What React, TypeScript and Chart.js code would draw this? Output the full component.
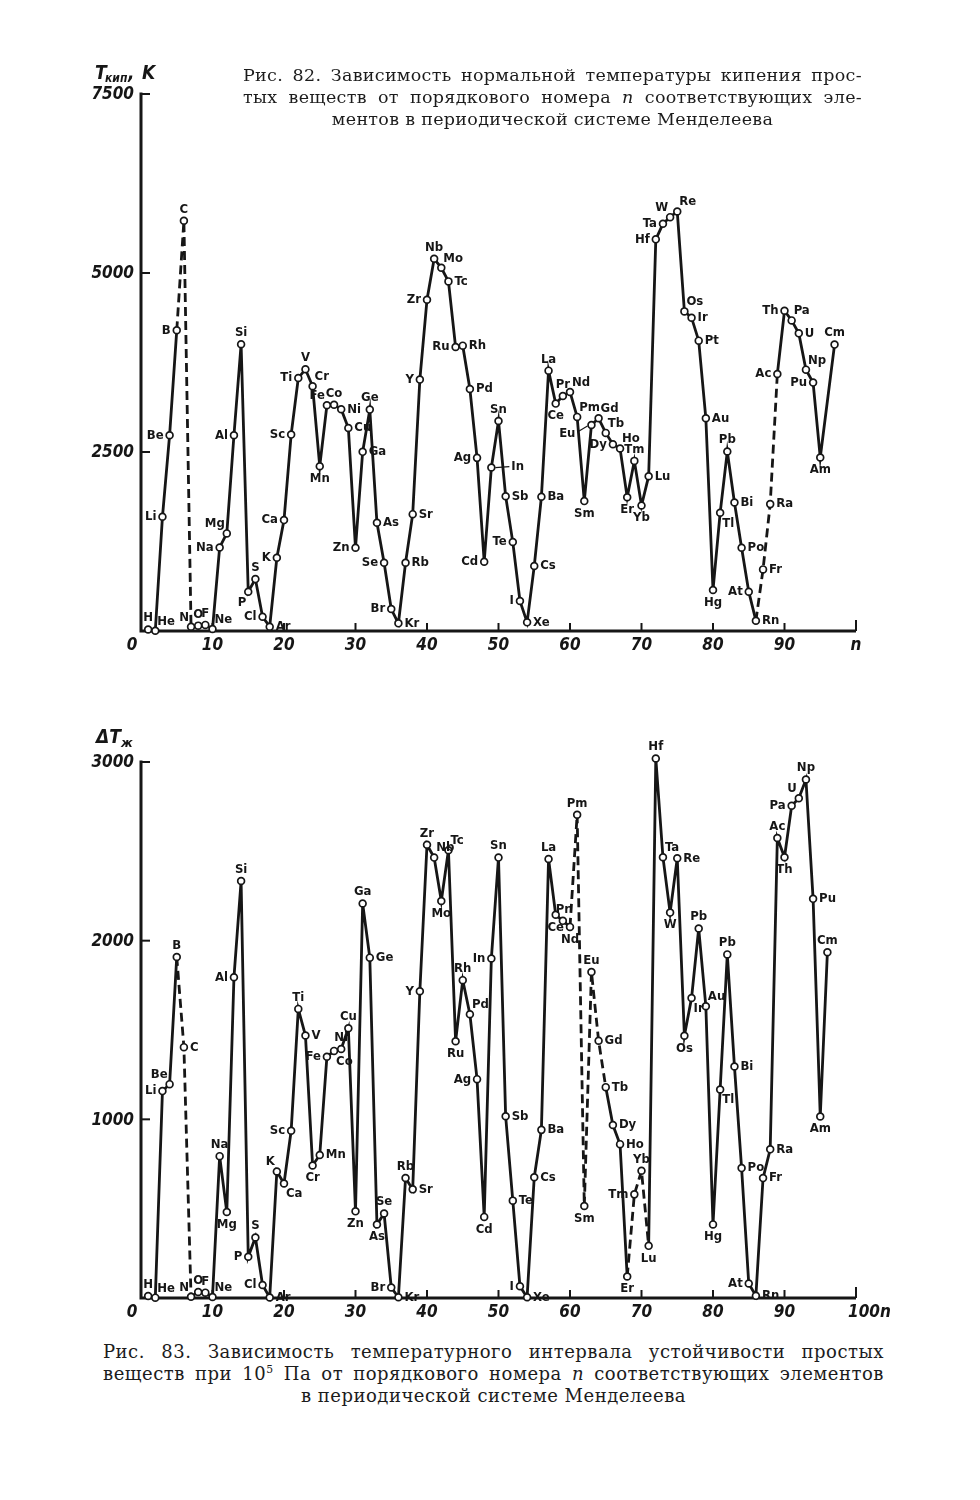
import React, { useEffect, useRef } from "react";
import { Chart, registerables } from "chart.js";
Chart.register(...registerables);

// ---------- DATA ----------
const symbols = ["H","He","Li","Be","B","C","N","O","F","Ne","Na","Mg","Al","Si","P","S","Cl","Ar","K","Ca","Sc","Ti","V","Cr","Mn","Fe","Co","Ni","Cu","Zn","Ga","Ge","As","Se","Br","Kr","Rb","Sr","Y","Zr","Nb","Mo","Tc","Ru","Rh","Pd","Ag","Cd","In","Sn","Sb","Te","I","Xe","Cs","Ba","La","Ce","Pr","Nd","Pm","Sm","Eu","Gd","Tb","Dy","Ho","Er","Tm","Yb","Lu","Hf","Ta","W","Re","Os","Ir","Pt","Au","Hg","Tl","Pb","Bi","Po","At","Rn","Fr","Ra","Ac","Th","Pa","U","Np","Pu","Am","Cm"];

// atomic number n (x position); in Fig. 82 Cm is drawn slightly to the right
const atomicN = symbols.map((_, i) => i + 1);
const nTop = atomicN.map((n) => (n === 96 ? 97 : n));
const nBottom = atomicN;

// Fig. 82: normal boiling temperature, K
const boilingK = [20,4,1595,2734,4200,5730,60,75,85,27,1167,1363,2734,4004,549,725,200,60,1023,1549,2743,3534,3655,3418,2302,3153,3160,3097,2836,1162,2502,3092,1511,953,307,107,953,1632,3511,4627,5199,5073,4883,3966,3985,3380,2418,967,2283,2934,1883,1242,419,121,907,1874,3636,3176,3283,3339,2990,1814,2878,2971,2767,2609,2548,1869,2376,1753,2162,5470,5687,5780,5859,4464,4376,4055,2971,572,1651,2506,1795,1162,549,144,860,1772,3590,4473,4338,4157,3650,3469,2423,4000];

// Fig. 83: liquid-range temperature interval
const deltaT = [11,2,1158,1197,1909,1404,7,34,30,6,794,481,1795,2334,231,339,73,3,708,641,936,1618,1469,742,800,1350,1383,1394,1510,485,2208,1905,411,473,59,4,672,608,1717,2537,2465,2222,2506,1437,1779,1588,1225,454,1900,2465,1017,545,66,4,676,941,2457,2145,2111,2077,2705,515,1825,1440,1180,968,861,120,580,712,292,3020,2467,2157,2461,1468,1679,2068,1633,412,1167,1923,1296,727,81,12,671,832,2575,2467,2755,2797,2902,2234,1016,1935];

const labelsTop = symbols;
const labelsBottom = symbols.map((s) => (s === "Pt" ? "Pb" : s));

const topYTicks = [2500, 5000, 7500];
const bottomYTicks = [1000, 2000, 3000];
const xTicks = [0, 10, 20, 30, 40, 50, 60, 70, 80, 90, 100];
const topXTickLabels = ["0", "10", "20", "30", "40", "50", "60", "70", "80", "90", "n"];
const bottomXTickLabels = ["0", "10", "20", "30", "40", "50", "60", "70", "80", "90", "100n"];

const topCaption = [
  "Рис. 82. Зависимость нормальной температуры кипения прос-",
  "тых веществ от порядкового номера n соответствующих эле-",
  "ментов в периодической системе Менделеева",
];
const bottomCaption = [
  "Рис. 83. Зависимость температурного интервала устойчивости простых",
  "веществ при 10^5 Па от порядкового номера n соответствующих элементов",
  "в периодической системе Менделеева",
];

// ---------- STYLE (label placement, dashed segments) ----------
const topLabelPos = ["t","tr","l","l","l","t","tl","t","t","tr","l","tl","l","t","bl","t","l","r","l","l","l","l","t","tr","b","tl","t","r","r","l","r","t","r","l","l","r","r","r","l","l","t","tr","r","l","r","r","l","l","R","t","r","l","l","r","r","r","t","b","t","tr","tr","b","L","tr","tr","l","tr","b","t","b","r","l","l","tl","tr","tr","r","r","r","b","br","t","r","r","l","r","r","r","l","l","tr","r","tr","l","b","t"];
const bottomLabelPos = ["t","tr","l","tl","t","r","tl","t","t","tr","t","b","l","t","l","t","l","r","tl","br","l","t","r","b","r","l","br","t","t","b","t","r","b","t","l","r","t","r","l","t","tr","b","tr","b","t","tr","l","b","l","t","r","r","l","r","r","r","t","b","t","b","t","b","t","r","r","r","r","b","l","t","b","t","tr","b","r","b","br","t","tr","b","br","t","r","r","l","r","r","r","t","b","l","tl","t","r","b","t"];
const topDashedFrom = [4, 5, 85, 86, 87];
const bottomDashedFrom = [4, 5, 59, 60, 61, 62, 63, 67, 68, 69];

const NARROW = "'Liberation Sans Narrow', 'DejaVu Sans Condensed', 'Liberation Sans', sans-serif";
const INK = "#161616";

type Cfg = {
  n: number[];
  values: number[];
  labels: string[];
  pos: string[];
  dashed: number[];
  yMax: number;
  yTicks: number[];
  xTickLabels: string[];
  title: (ctx: CanvasRenderingContext2D) => void;
  padding: { left: number; right: number; top: number; bottom: number };
  width: number;
  height: number;
};

function drawLabel(ctx: CanvasRenderingContext2D, text: string, px: number, py: number, code: string) {
  ctx.save();
  ctx.fillStyle = INK;
  ctx.font = `bold 13px ${NARROW}`;
  let x = px, y = py;
  switch (code) {
    case "l": ctx.textAlign = "right"; ctx.textBaseline = "middle"; x -= 6; break;
    case "r": ctx.textAlign = "left"; ctx.textBaseline = "middle"; x += 6; break;
    case "t": ctx.textAlign = "center"; ctx.textBaseline = "bottom"; y -= 5; break;
    case "b": ctx.textAlign = "center"; ctx.textBaseline = "top"; y += 6; break;
    case "tl": ctx.textAlign = "right"; ctx.textBaseline = "bottom"; x -= 2; y -= 3; break;
    case "tr": ctx.textAlign = "left"; ctx.textBaseline = "bottom"; x += 2; y -= 3; break;
    case "bl": ctx.textAlign = "right"; ctx.textBaseline = "top"; x -= 2; y += 4; break;
    case "br": ctx.textAlign = "left"; ctx.textBaseline = "top"; x += 2; y += 4; break;
    case "R": {
      ctx.strokeStyle = INK; ctx.lineWidth = 1.2;
      ctx.beginPath(); ctx.moveTo(px + 4, py); ctx.lineTo(px + 18, py - 1); ctx.stroke();
      ctx.textAlign = "left"; ctx.textBaseline = "middle"; x += 20; y -= 1; break;
    }
    case "L": {
      ctx.strokeStyle = INK; ctx.lineWidth = 1.2;
      ctx.beginPath(); ctx.moveTo(px - 4, py + 1); ctx.lineTo(px - 14, py + 7); ctx.stroke();
      ctx.textAlign = "right"; ctx.textBaseline = "middle"; x -= 16; y += 9; break;
    }
  }
  ctx.fillText(text, x, y);
  ctx.restore();
}

function ChartPanel({ cfg, style }: { cfg: Cfg; style: React.CSSProperties }) {
  const ref = useRef<HTMLCanvasElement | null>(null);
  useEffect(() => {
    if (!ref.current) return;
    const plugin = {
      id: "bookAxes",
      beforeDatasetsDraw(chart: any) {
        const { ctx, scales } = chart;
        const xs = scales.x, ys = scales.y;
        const x0 = xs.getPixelForValue(0), x100 = xs.getPixelForValue(100);
        const y0 = ys.getPixelForValue(0), yTop = ys.getPixelForValue(cfg.yMax);
        ctx.save();
        ctx.strokeStyle = INK;
        ctx.lineWidth = 3;
        ctx.lineCap = "butt";
        ctx.beginPath();
        ctx.moveTo(x0, yTop - 1.5);
        ctx.lineTo(x0, y0);
        ctx.lineTo(x100, y0);
        ctx.stroke();
        ctx.lineWidth = 2;
        cfg.yTicks.forEach((v) => {
          const py = ys.getPixelForValue(v);
          ctx.beginPath(); ctx.moveTo(x0, py); ctx.lineTo(x0 + 9, py); ctx.stroke();
        });
        xTicks.forEach((v) => {
          if (v === 0) return;
          const px = xs.getPixelForValue(v);
          ctx.beginPath(); ctx.moveTo(px, y0); ctx.lineTo(px, y0 - (v === 100 ? 11 : 8)); ctx.stroke();
        });
        ctx.fillStyle = INK;
        ctx.font = `italic bold 17px ${NARROW}`;
        ctx.textAlign = "right";
        ctx.textBaseline = "middle";
        cfg.yTicks.forEach((v) => {
          ctx.fillText(String(v), x0 - 7, ys.getPixelForValue(v) + 1);
        });
        ctx.textBaseline = "middle";
        xTicks.forEach((v, i) => {
          const txt = cfg.xTickLabels[i];
          const px = xs.getPixelForValue(v);
          if (v === 0) { ctx.textAlign = "center"; ctx.fillText(txt, px - 9, y0 + 15); }
          else if (v === 100 && txt.length > 1) { ctx.textAlign = "left"; ctx.fillText(txt, px - 8, y0 + 15); }
          else { ctx.textAlign = "center"; ctx.fillText(txt, px, y0 + 15); }
        });
        cfg.title(ctx);
        ctx.restore();
      },
      afterDatasetsDraw(chart: any) {
        const meta = chart.getDatasetMeta(0);
        const { ctx } = chart;
        meta.data.forEach((pt: any, i: number) => {
          drawLabel(ctx, cfg.labels[i], pt.x, pt.y, cfg.pos[i]);
        });
      },
    };
    const chart = new Chart(ref.current, {
      type: "line",
      data: {
        datasets: [
          {
            data: cfg.values.map((v, i) => ({ x: cfg.n[i], y: v })),
            borderColor: INK,
            borderWidth: 2.8,
            pointRadius: 3.4,
            pointBorderWidth: 1.7,
            pointBackgroundColor: "#ffffff",
            pointBorderColor: INK,
            tension: 0,
            clip: false as any,
            segment: {
              borderDash: (c: any) => (cfg.dashed.includes(c.p0DataIndex) ? [9, 5] : undefined),
            },
          },
        ],
      },
      options: {
        animation: false,
        responsive: false,
        devicePixelRatio: 1,
        layout: { padding: cfg.padding },
        scales: {
          x: { type: "linear", min: 0, max: 100, display: false },
          y: { type: "linear", min: 0, max: cfg.yMax, display: false },
        },
        plugins: { legend: { display: false }, tooltip: { enabled: false } },
      },
      plugins: [plugin],
    });
    return () => chart.destroy();
  }, [cfg]);
  return <canvas ref={ref} width={cfg.width} height={cfg.height} style={style} />;
}

const topCfg: Cfg = {
  n: nTop,
  values: boilingK,
  labels: labelsTop,
  pos: topLabelPos,
  dashed: topDashedFrom,
  yMax: 7500,
  yTicks: topYTicks,
  xTickLabels: topXTickLabels,
  title: (ctx) => {
    ctx.textAlign = "left";
    ctx.textBaseline = "alphabetic";
    ctx.font = `italic bold 19px ${NARROW}`;
    ctx.fillText("T", 95, 79);
    ctx.font = `italic bold 12px ${NARROW}`;
    ctx.fillText("кип", 105, 82);
    ctx.font = `italic bold 19px ${NARROW}`;
    ctx.fillText(",", 128, 79);
    ctx.fillText("K", 142, 79);
  },
  padding: { left: 141, right: 124, top: 94, bottom: 49 },
  width: 980,
  height: 680,
};

const bottomCfg: Cfg = {
  n: nBottom,
  values: deltaT,
  labels: labelsBottom,
  pos: bottomLabelPos,
  dashed: bottomDashedFrom,
  yMax: 3000,
  yTicks: bottomYTicks,
  xTickLabels: bottomXTickLabels,
  title: (ctx) => {
    ctx.textAlign = "left";
    ctx.textBaseline = "alphabetic";
    ctx.font = `italic bold 19px ${NARROW}`;
    ctx.fillText("ΔT", 96, 43);
    ctx.font = `italic bold 13px ${NARROW}`;
    ctx.fillText("ж", 121, 47);
  },
  padding: { left: 141, right: 124, top: 62, bottom: 32 },
  width: 980,
  height: 630,
};

const captionStyle: React.CSSProperties = {
  position: "absolute",
  fontFamily: "'DejaVu Serif', 'Liberation Serif', serif",
  color: "#1c1c1c",
  whiteSpace: "nowrap",
  lineHeight: "22px",
};

function renderWord(w: string, k: number) {
  if (w === "n") return <i key={k}>n</i>;
  if (w.includes("^")) {
    const [a, b] = w.split("^");
    return (
      <span key={k}>
        {a}
        <sup style={{ fontSize: "0.6em", lineHeight: 0 }}>{b}</sup>
      </span>
    );
  }
  return <span key={k}>{w}</span>;
}

function CapLine({ left, top, width, text, justify, size, ls }: { left: number; top: number; width: number; text: string; justify: boolean; size: number; ls: number }) {
  const words = text.split(" ");
  if (!justify) {
    return (
      <div style={{ ...captionStyle, left, top, width, fontSize: size, letterSpacing: ls, textAlign: "center" }}>
        {words.map((w, k) => (
          <React.Fragment key={k}>
            {k > 0 ? " " : null}
            {renderWord(w, k)}
          </React.Fragment>
        ))}
      </div>
    );
  }
  return (
    <div style={{ ...captionStyle, left, top, width, fontSize: size, letterSpacing: ls, display: "flex", justifyContent: "space-between" }}>
      {words.map((w, k) => renderWord(w, k))}
    </div>
  );
}

export default function App() {
  return (
    <div style={{ position: "absolute", left: 0, top: 0, width: 980, height: 1500, background: "#fff", overflow: "hidden" }}>
      <ChartPanel cfg={topCfg} style={{ position: "absolute", left: 0, top: 0 }} />
      <ChartPanel cfg={bottomCfg} style={{ position: "absolute", left: 0, top: 700 }} />

      {topCaption.map((t, i) => (
        <CapLine key={i} left={243} top={64 + i * 22} width={619} text={t} justify={i < 2} size={17.5} ls={0.3} />
      ))}
      {bottomCaption.map((t, i) => (
        <CapLine key={i} left={103} top={1341 + i * 22} width={781} text={t} justify={i < 2} size={18} ls={0.5} />
      ))}
    </div>
  );
}
